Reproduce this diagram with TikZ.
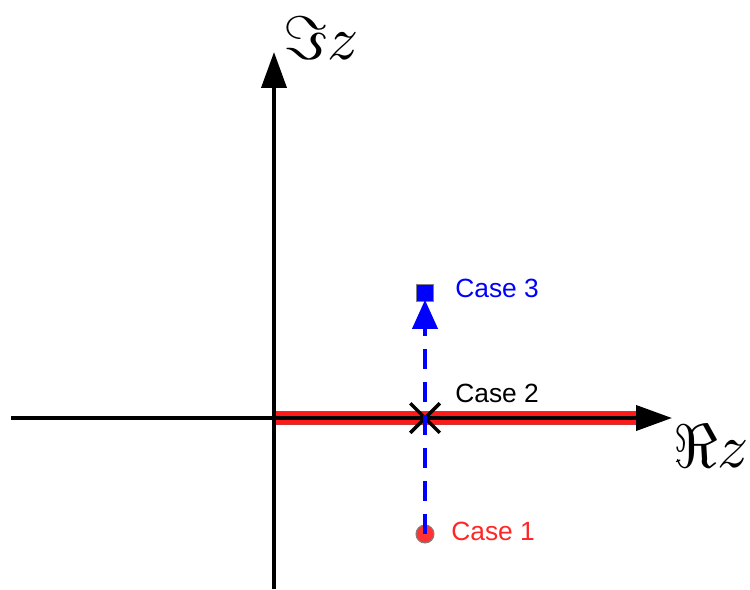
\documentclass[tikz,border=0pt]{standalone}
\usepackage{amssymb}
\usepackage{amsmath}
\usepackage{fontspec}
\newfontfamily\casefont{Liberation Sans}
\usepackage{tikz}
\usetikzlibrary{arrows.meta, positioning, shapes.misc}

\begin{document}
\begin{tikzpicture}[
    x=0.02cm, y=-0.02cm,
    axis/.style={line width=2.2pt, -{Triangle[length=0.72cm, width=0.5cm]}},
    path/.style={blue, line width=2.2pt, dash pattern=on 0.4cm off 0.26cm, -{Triangle[length=0.58cm, width=0.5cm]}},
    lab/.style={inner sep=0pt, anchor=base west, font=\casefont\fontsize{15}{18}\selectfont},
    axlab/.style={inner sep=0pt, anchor=base west}
]
\useasboundingbox (0,0) rectangle (750,589);

% Axes
\coordinate (o) at (274,418);
\coordinate (xl) at (11,418);
\coordinate (xr) at (672,418);
\coordinate (yb) at (274,589);
\coordinate (yt) at (274,52);
\coordinate (cutend) at (637,418);

% Branch cut
\draw[line width=7.6pt, red!55!gray] (o) -- (cutend);
\draw[line width=6.6pt, red!90] (o) -- (cutend);

\draw[axis] (xl) -- (xr);
\draw[axis] (yb) -- (yt);
\node[axlab] (imz) at (283,59) {\scalebox{3.5}{$\Im z$}};
\node[axlab] (rez) at (673,467) {\scalebox{3.5}{$\Re z$}};

% Cases
\node[circle, fill=red!80, draw=gray, line width=0.6pt, minimum size=0.36cm, inner sep=0pt] (c1) at (425,534) {};
\node[cross out, draw=black, line width=2pt, minimum size=0.52cm, inner sep=0pt] (c2) at (425,418) {};
\node[rectangle, fill=blue, draw=gray, line width=0.4pt, minimum size=0.34cm, inner sep=0pt] (c3) at (425,293) {};

\draw[path] (c1.center) -- ([yshift=0.04cm]c3.south);

\node[lab, red!85] (l1) at (451,540) {Case 1};
\node[lab, black] (l2) at (455,402) {Case 2};
\node[lab, blue] (l3) at (455,297) {Case 3};

\end{tikzpicture}
\end{document}
